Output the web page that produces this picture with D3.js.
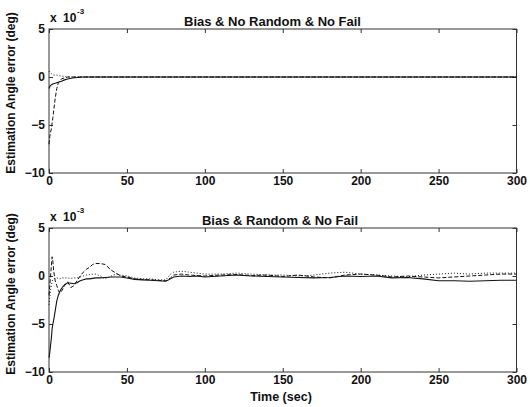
<!DOCTYPE html>
<html><head><meta charset="utf-8">
<script src="https://cdn.jsdelivr.net/npm/d3@7"></script>
<style>
body{margin:0;background:#fff;}
svg{display:block;}
text{font-family:"Liberation Sans",Arial,sans-serif;fill:#111;font-weight:bold;}
</style></head>
<body>
<svg id="c" width="530" height="407"></svg>
<script>
// ---------- data ----------
const xTicks = [0, 50, 100, 150, 200, 250, 300];
const yTicks = [5, 0, -5, -10];
const titles = ["Bias & No Random & No Fail", "Bias & Random & No Fail"];
const yLabel = "Estimation Angle error (deg)";
const xLabel = "Time (sec)";

// top panel (values in 1e-3 deg)
const tTop      = [0, 0.5, 1, 1.5, 2, 2.5, 3, 4, 5, 6, 8, 10, 12, 15, 18, 22, 30, 300];
const topSolid  = [-1.2, -1.0, -0.9, -0.8, -0.8, -0.7, -0.7, -0.65, -0.6, -0.55, -0.45, -0.3, -0.2, -0.1, -0.05, 0, 0, 0];
const topDash   = [-7.0, -6.2, -5.8, -5.4, -4.8, -4.2, -3.5, -2.2, -1.2, -0.6, -0.2, -0.1, 0, 0, 0, 0, 0, 0];
const topDot    = [0.6, 0.5, 0.4, 0.35, 0.3, 0.25, 0.2, 0.2, 0.2, 0.15, 0.1, 0.05, 0, 0, 0, 0, 0, 0];

// bottom panel
const tBot = [0, 0.5, 1, 1.5, 2, 2.5, 3, 4, 5, 6, 7, 8, 10, 12, 14, 16, 18, 20, 22, 24, 26, 28, 30, 33, 36, 40, 43, 46, 50, 55,
              60, 65, 70, 75, 78, 80, 85, 90, 95, 100, 110, 120, 130, 140, 150, 160, 170, 180, 190, 200,
              210, 220, 230, 240, 250, 260, 270, 280, 290, 300];
const botSolid = [-8.5, -8.0, -7.2, -6.5, -5.5, -5.0, -4.6, -3.6, -2.6, -2.0, -1.6, -1.3, -0.9, -0.7, -0.75, -0.8, -0.7, -0.5, -0.4, -0.3, -0.3, -0.25, -0.2, -0.2, -0.15, -0.1, -0.1, -0.1, -0.2, -0.35,
                  -0.4, -0.45, -0.5, -0.55, -0.3, -0.1, 0.0, -0.05, 0.0, -0.1, 0.0, 0.1, 0.0, -0.05, -0.1, -0.15, -0.2, -0.15, 0.0, -0.05,
                  0.0, -0.2, -0.15, -0.3, -0.5, -0.5, -0.55, -0.5, -0.45, -0.45];
const botDash  = [-2.0, -1.0, 0.0, 1.0, 2.0, 1.5, 0.5, -0.5, -1.0, -1.5, -1.8, -1.6, -1.0, -0.6, -1.2, -1.0, -0.5, 0.0, 0.4, 0.7, 0.9, 1.2, 1.3, 1.3, 1.2, 0.6, 0.3, 0.0, -0.1, -0.3,
                  -0.35, -0.4, -0.45, -0.5, -0.2, 0.1, 0.2, 0.1, 0.05, 0.0, 0.1, 0.15, 0.05, 0.1, -0.05, 0.1, -0.1, -0.2, 0.1, 0.2,
                  0.1, -0.1, 0.0, -0.1, -0.2, -0.1, 0.0, 0.1, 0.2, 0.2];
const botDot   = [-3.0, -2.2, -1.5, -1.0, -0.6, -0.4, -0.3, -0.2, -0.2, -0.25, -0.3, -0.2, -0.2, -0.2, -0.25, -0.2, -0.2, -0.1, 0.0, 0.1, 0.15, 0.2, 0.2, 0.0, -0.3, 0.0, 0.2, 0.1, 0.0, -0.2,
                  -0.3, -0.3, -0.4, -0.4, 0.2, 0.4, 0.5, 0.4, 0.3, 0.2, 0.2, 0.3, 0.2, 0.1, 0.1, 0.0, 0.1, 0.3, 0.4, 0.2,
                  0.1, 0.0, -0.1, 0.1, 0.2, 0.3, 0.2, 0.3, 0.3, 0.3];

// ---------- drawing ----------
const svg = d3.select("#c");
const X0 = 49, X1 = 516.5;
const panels = [
  {top: 29, bottom: 173, title: titles[0], tx: 272.5, t: tTop, series: [topSolid, topDash, topDot], ly: 93},
  {top: 228, bottom: 372, title: titles[1], tx: 280, t: tBot, series: [botSolid, botDash, botDot], ly: 294}
];
const styles = [
  {dash: null, w: 1.1},
  {dash: "4,2", w: 1},
  {dash: "1,2", w: 1}
];

panels.forEach((p, pi) => {
  const x = d3.scaleLinear().domain([0, 300]).range([X0, X1]);
  const y = d3.scaleLinear().domain([-10, 5]).range([p.bottom, p.top]);
  const g = svg.append("g");

  // frame
  g.append("rect").attr("x", X0).attr("y", p.top).attr("width", X1 - X0).attr("height", p.bottom - p.top)
    .attr("fill", "none").attr("stroke", "#333").attr("stroke-width", 1);

  // axes with inward ticks
  const ax = g.append("g").attr("transform", `translate(0,${p.bottom})`)
    .call(d3.axisBottom(x).tickValues(xTicks).tickSizeInner(-4).tickSizeOuter(0).tickPadding(3).tickFormat(d3.format("d")));
  const axT = g.append("g").attr("transform", `translate(0,${p.top})`)
    .call(d3.axisTop(x).tickValues(xTicks).tickSizeInner(-4).tickSizeOuter(0).tickFormat(""));
  const ay = g.append("g").attr("transform", `translate(${X0},0)`)
    .call(d3.axisLeft(y).tickValues(yTicks).tickSizeInner(-4).tickSizeOuter(0).tickPadding(4).tickFormat(d3.format("d")));
  const ayR = g.append("g").attr("transform", `translate(${X1},0)`)
    .call(d3.axisRight(y).tickValues(yTicks).tickSizeInner(-4).tickSizeOuter(0).tickFormat(""));
  [ax, axT, ay, ayR].forEach(a => {
    a.select(".domain").remove();
    a.selectAll("line").attr("stroke", "#333");
    a.selectAll("text").attr("font-size", 12).attr("fill", "#111")
      .style("font-family", "'Liberation Sans',Arial,sans-serif").style("font-weight", "bold");
  });

  // lines
  const line = d3.line().x((d, i) => x(p.t[i])).y(d => y(d));
  p.series.forEach((s, si) => {
    g.append("path").datum(s).attr("d", line).attr("fill", "none")
      .attr("stroke", "#111").attr("stroke-width", styles[si].w)
      .attr("stroke-dasharray", styles[si].dash);
  });

  // title
  g.append("text").attr("x", p.tx).attr("y", p.top - 3).attr("text-anchor", "middle")
    .attr("font-size", 13).text(p.title);

  // exponent
  g.append("text").attr("x", X0 + 1).attr("y", p.top - 7).attr("font-size", 12).text("x");
  g.append("text").attr("x", X0 + 14).attr("y", p.top - 7).attr("font-size", 12).text("10");
  g.append("text").attr("x", X0 + 28).attr("y", p.top - 15).attr("font-size", 8).text("-3");

  // y label
  g.append("text").attr("transform", `translate(15,${p.ly}) rotate(-90)`)
    .attr("text-anchor", "middle").attr("font-size", 12).text(yLabel);
});

svg.append("text").attr("x", 281).attr("y", 401).attr("text-anchor", "middle")
  .attr("font-size", 12.5).text(xLabel);
</script>
</body></html>
